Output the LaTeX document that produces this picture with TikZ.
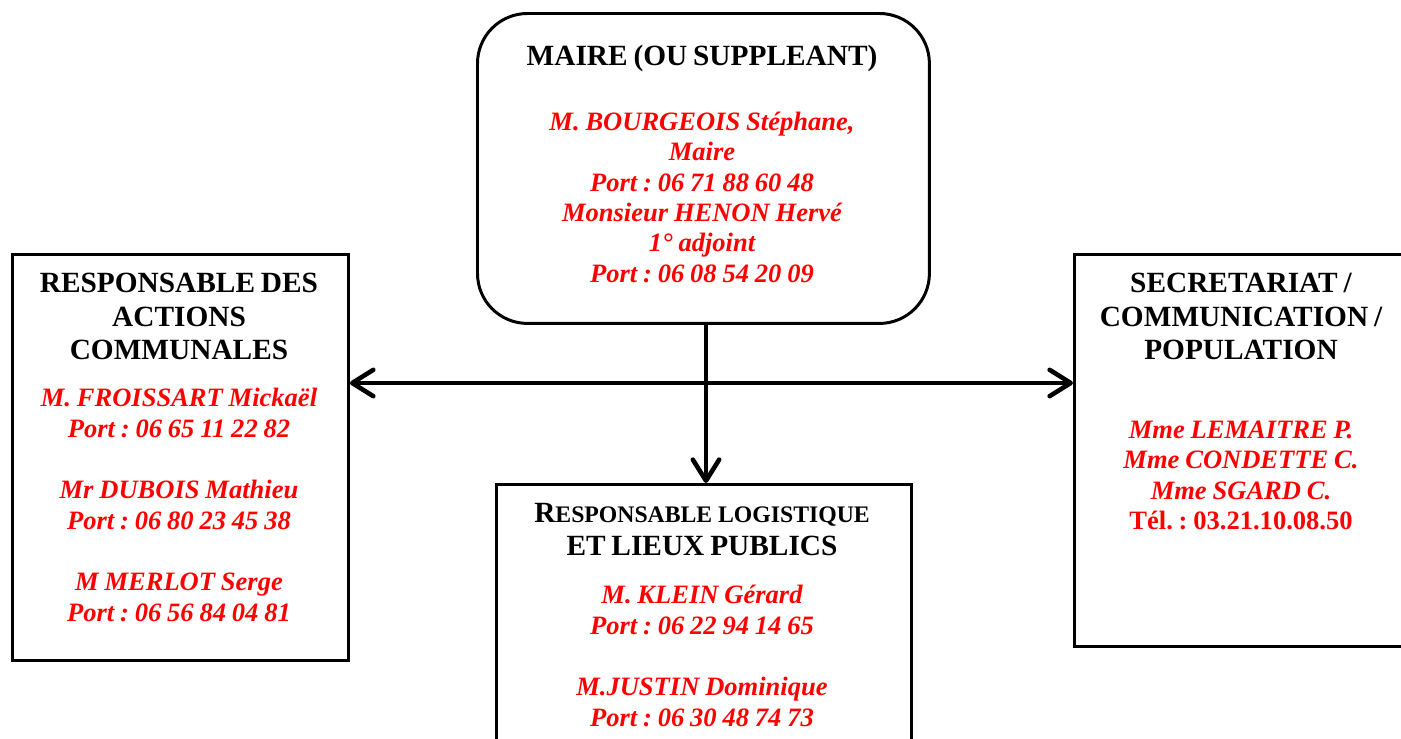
\documentclass[tikz,border=0pt]{standalone}
\usepackage{fontspec}
\setmainfont{Liberation Serif}
\usetikzlibrary{arrows.meta}
\frenchspacing
\newcommand{\rubrique}[1]{{\fontsize{16.7}{19}\selectfont\bfseries #1\par}}
\newcommand{\contact}[1]{{\fontsize{15.1}{17.3}\selectfont\bfseries\itshape\color{red}#1\par}}

\begin{document}
\begin{tikzpicture}[x=0.02cm,y=0.02cm,
		cadre/.style={draw,line width=1.7pt,anchor=north west,inner sep=0pt},
		txt/.style={anchor=north,inner sep=0pt,align=center},
		link/.style={line width=2.6pt,>={Straight Barb[length=12pt,width=15pt,round]},->}]
		\useasboundingbox (0,0) rectangle (1401,-738);
		\node[cadre,rounded corners=1cm,minimum width=9.04cm,minimum height=6.2cm] (mayor) at (476,-12) {};
		\node[cadre,minimum width=6.72cm,minimum height=8.12cm] (actions) at (11,-253) {};
		\node[cadre,minimum width=8.3cm,minimum height=8.12cm] (logist) at (495,-483) {};
		\node[cadre,minimum width=6.72cm,minimum height=7.84cm] (secret) at (1073,-253) {};
		\node[txt,text width=8.6cm] (mayorTxt) at (702,-45) {\rubrique{MAIRE (OU SUPPLEANT)}\vspace{19.5pt}\contact{M. BOURGEOIS Stéphane,\\ Maire\\ Port : 06 71 88 60 48\\ Monsieur HENON Hervé\\ 1° adjoint\\ Port : 06 08 54 20 09}};
		\node[txt,text width=6.6cm] (actionsTxt) at (179,-273) {\rubrique{RESPONSABLE DES\\ ACTIONS\\ COMMUNALES}\vspace{9.6pt}\contact{M. FROISSART Mickaël\\ Port : 06 65 11 22 82\\[17.8pt] Mr DUBOIS Mathieu\\ Port : 06 80 23 45 38\\[17.8pt] M MERLOT Serge\\ Port : 06 56 84 04 81}};
		\node[txt,text width=8cm] (logistTxt) at (702,-503) {\rubrique{R{\fontsize{13.5}{19}\selectfont ESPONSABLE LOGISTIQUE}\\ ET LIEUX PUBLICS}\vspace{10pt}\contact{M. KLEIN Gérard\\ Port : 06 22 94 14 65\\[17.8pt] M.JUSTIN Dominique\\ Port : 06 30 48 74 73}};
		\node[txt,text width=6.6cm] (secretTxt) at (1241,-273) {\rubrique{SECRETARIAT /\\ COMMUNICATION /\\ POPULATION}\vspace{27.5pt}\contact{Mme LEMAITRE P.\\ Mme CONDETTE C.\\ Mme SGARD C.\\ \upshape Tél. : 03.21.10.08.50}};
		\coordinate (trunk) at (706,-383);
		\draw[link] (mayor.south -| trunk) -- (logist.north -| trunk);
		\draw[link,<->] (actions.east |- trunk) -- (secret.west |- trunk);
	\end{tikzpicture}
\end{document}
